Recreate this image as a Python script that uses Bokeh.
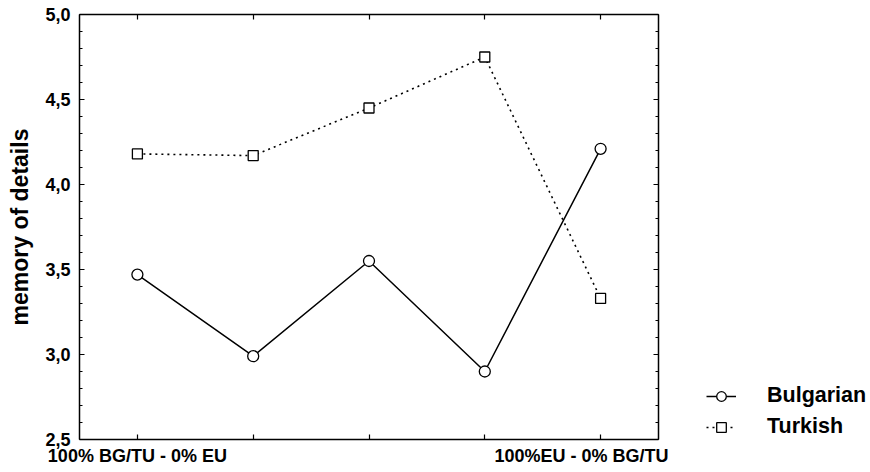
from bokeh.plotting import figure
from bokeh.layouts import row
from bokeh.models import (Range1d, LinearAxis, FixedTicker, SingleIntervalTicker,
                          CustomJSTickFormatter, Legend, LegendItem)
from bokeh.embed import file_html
from bokeh.resources import INLINE

# ---- data ----
positions = [1, 2, 3, 4, 5]
x_labels = ["100% BG/TU - 0% EU", "", "", "", "100%EU - 0% BG/TU"]
bulgarian = [3.47, 2.99, 3.55, 2.90, 4.21]
turkish = [4.18, 4.17, 4.45, 4.75, 3.33]
series_names = ["Bulgarian", "Turkish"]
y_label = "memory of details"

FONT = "Liberation Sans"
H = 470

p = figure(width=668, height=H, output_backend="svg", toolbar_location=None,
           x_range=Range1d(0.5, 5.5), y_range=Range1d(2.5, 5.0),
           x_axis_location=None, y_axis_location=None,
           min_border_left=79, min_border_right=10, min_border_top=14,
           min_border_bottom=31, outline_line_color=None)
p.grid.visible = False
p.background_fill_color = "white"
p.border_fill_color = "white"


def style_axis(ax, labels=True):
    ax.axis_line_color = "black"
    ax.axis_line_width = 1.5
    ax.major_tick_line_color = "black"
    ax.major_tick_line_width = 1.2
    ax.minor_tick_line_color = "black"
    ax.minor_tick_line_width = 1.0
    ax.major_tick_in = 5
    ax.major_tick_out = 0
    ax.minor_tick_in = 3
    ax.minor_tick_out = 0
    ax.major_label_text_font = FONT
    ax.major_label_text_font_style = "bold"
    ax.major_label_text_font_size = "18px"
    ax.major_label_text_color = "black"
    if not labels:
        ax.formatter = CustomJSTickFormatter(code="return '';")
        ax.major_label_standoff = 0


yfmt = CustomJSTickFormatter(code="return tick.toFixed(1).replace('.', ',');")
xfmt = CustomJSTickFormatter(args=dict(pos=positions, labels=x_labels),
                             code="const i = pos.indexOf(tick); return i >= 0 ? labels[i] : '';")

left = LinearAxis(ticker=SingleIntervalTicker(interval=0.5, num_minor_ticks=5), formatter=yfmt,
                  axis_label=y_label)
style_axis(left)
left.major_label_standoff = 9
left.axis_label_text_font = FONT
left.axis_label_text_font_style = "bold"
left.axis_label_text_font_size = "23px"
left.axis_label_text_color = "black"
left.axis_label_standoff = 9
p.add_layout(left, "left")

right = LinearAxis(ticker=SingleIntervalTicker(interval=0.5, num_minor_ticks=5))
style_axis(right, labels=False)
p.add_layout(right, "right")

bottom = LinearAxis(ticker=FixedTicker(ticks=positions), formatter=xfmt)
style_axis(bottom)
bottom.major_label_standoff = 6
bottom.minor_tick_in = 0
p.add_layout(bottom, "below")

top = LinearAxis(ticker=FixedTicker(ticks=positions))
style_axis(top, labels=False)
top.minor_tick_in = 0
p.add_layout(top, "above")

line_styles = [dict(line_color="black", line_width=1.5),
               dict(line_color="black", line_width=1.6, line_dash="2 4")]
marker_styles = [dict(marker="circle", size=11, fill_color="white", line_color="black", line_width=1.3),
                 dict(marker="square", size=10, fill_color="white", line_color="black", line_width=1.3)]

series = [bulgarian, turkish]
for vals, ls, ms in zip(series, line_styles, marker_styles):
    p.line(positions, vals, **ls)
    p.scatter(positions, vals, **ms)

# ---- legend panel: a second figure to the right whose own view shows no data ----
lg = figure(width=202, height=H, output_backend="svg", toolbar_location=None,
            x_range=Range1d(100, 101), y_range=Range1d(100, 101),
            x_axis_location=None, y_axis_location=None, outline_line_color=None,
            min_border=0)
lg.grid.visible = False
items = []
for name, vals, ls, ms in zip(series_names, series, line_styles, marker_styles):
    rl = lg.line(positions, vals, **ls)
    rs = lg.scatter(positions, vals, **ms)
    items.append(LegendItem(label=name, renderers=[rl, rs]))

legend = Legend(items=items, location=(38, 0), glyph_width=30, glyph_height=24, label_height=24,
                label_standoff=31, spacing=6, padding=0, margin=0,
                border_line_color=None, background_fill_alpha=0,
                label_text_font=FONT, label_text_font_style="bold",
                label_text_font_size="21.5px", label_text_color="black")
lg.add_layout(legend)

layout = row(p, lg, spacing=0)
open("out.html", "w").write(file_html(layout, INLINE))
